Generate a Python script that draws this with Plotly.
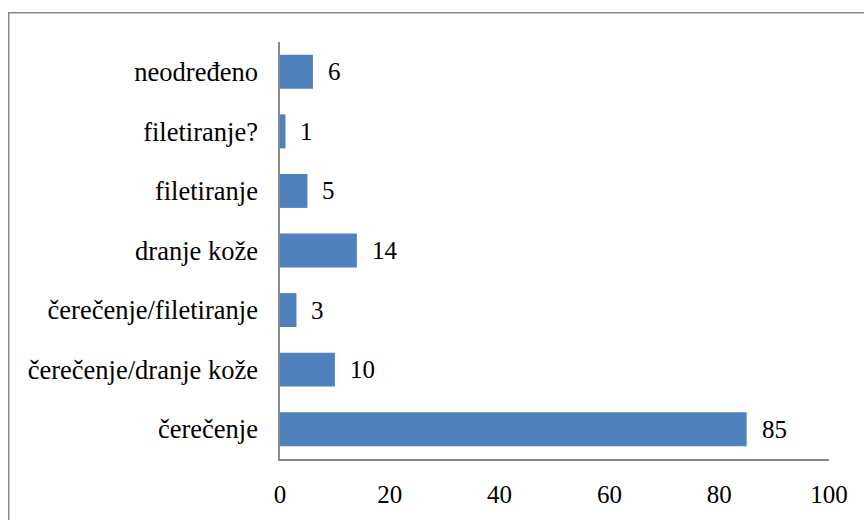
import plotly.graph_objects as go

categories = ["čerečenje", "čerečenje/dranje kože", "čerečenje/filetiranje",
              "dranje kože", "filetiranje", "filetiranje?", "neodređeno"]
values = [85, 10, 3, 14, 5, 1, 6]
x_ticks = [0, 20, 40, 60, 80, 100]

FONT = "Liberation Serif"
W, H = 864, 520
L, R, T, B = 280, 35, 42, 57
pw, ph = W - L - R, H - T - B

fig = go.Figure()
fig.add_trace(go.Bar(
    y=categories, x=values, orientation="h",
    marker=dict(color="#4F81BD", line=dict(width=0)),
    width=0.57, hoverinfo="skip",
))

for c, v in zip(categories, values):
    fig.add_annotation(x=v, y=c, text=str(v), showarrow=False,
                       xanchor="left", xshift=13,
                       font=dict(family=FONT, size=25, color="#000"))

# outer frame
fig.add_shape(type="rect", xref="paper", yref="paper",
              x0=(8.75 - L) / pw, x1=(W + 10 - L) / pw,
              y0=-(B + 20) / ph, y1=(H - B - 12.5) / ph,
              line=dict(color="#8a8a8a", width=1.5), fillcolor="rgba(0,0,0,0)")

fig.update_layout(
    width=W, height=H,
    margin=dict(l=L, r=R, t=T, b=B),
    paper_bgcolor="white", plot_bgcolor="white",
    showlegend=False,
    font=dict(family=FONT, size=25, color="#000"),
    xaxis=dict(range=[0, 100], tickvals=x_ticks, showgrid=False, zeroline=False,
               showline=True, linecolor="#8a8a8a", linewidth=1.5,
               ticks="", ticklabelstandoff=12,
               tickfont=dict(family=FONT, size=25, color="#000")),
    yaxis=dict(categoryorder="array", categoryarray=categories,
               range=[-0.5, 6.5], showgrid=False, zeroline=False,
               showline=True, linecolor="#8a8a8a", linewidth=1.5,
               ticks="", ticklabelstandoff=15,
               tickfont=dict(family=FONT, size=26.5, color="#000")),
)

fig.write_html("out.html", config={"displayModeBar": False},
               post_script="document.body.style.margin='0';document.body.style.overflow='hidden';")
